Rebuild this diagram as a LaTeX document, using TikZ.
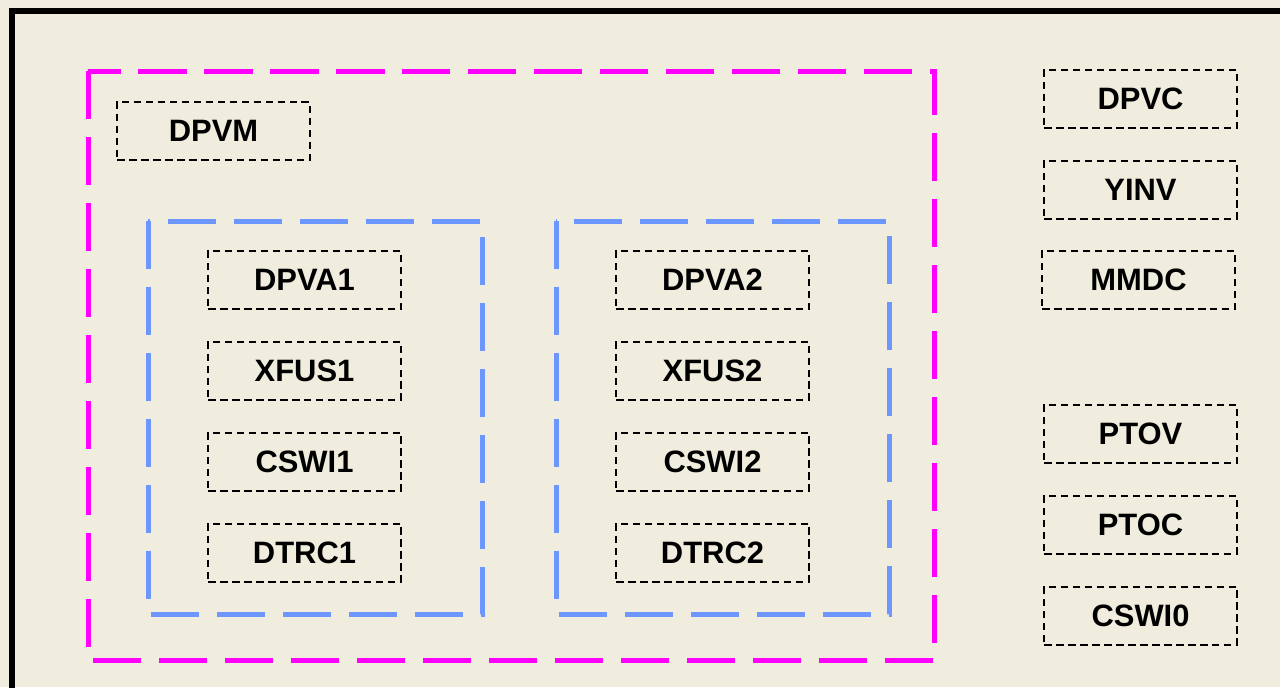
\documentclass[tikz,border=0pt]{standalone}
\usepackage{fontspec}
\setmainfont{Liberation Sans}
\usetikzlibrary{positioning}
\definecolor{pagebeige}{RGB}{240,237,222}
\definecolor{framemagenta}{RGB}{255,0,255}
\definecolor{frameblue}{RGB}{110,150,255}

\tikzset{
  lnode/.style={draw, line width=0.04cm, dash pattern=on 0.15cm off 0.09cm,
    minimum width=3.86cm, minimum height=1.16cm, inner sep=0pt,
    font=\fontsize{17.6}{20}\selectfont\bfseries},
  bigframe/.style={line width=0.1cm, dash pattern=on 0.97cm off 0.35cm}
}

\begin{document}
\begin{tikzpicture}[x=0.02cm, y=-0.02cm, node distance=0.62cm]
    % page
    \useasboundingbox (0,0) rectangle (1280,687);
    \clip (0,0) rectangle (1280,687);
    \fill[pagebeige] (0,0) rectangle (1280,687);
    \draw[line width=0.11cm] (12,11) rectangle (1320,720);

    % containers
    \draw[bigframe, framemagenta] (88,71) rectangle (934,660);
    \draw[bigframe, frameblue] (148,221) rectangle (482,614);
    \draw[bigframe, frameblue] (556,221) rectangle (889,614);

    % logical nodes
    \node[lnode] (dpvm) at (213.5,131) {DPVM};

    \node[lnode] (dpva1) at (304.5,280) {DPVA1};
    \node[lnode, below=of dpva1] (xfus1) {XFUS1};
    \node[lnode, below=of xfus1] (cswi1) {CSWI1};
    \node[lnode, below=of cswi1] (dtrc1) {DTRC1};

    \node[lnode] (dpva2) at (712.5,280) {DPVA2};
    \node[lnode, below=of dpva2] (xfus2) {XFUS2};
    \node[lnode, below=of xfus2] (cswi2) {CSWI2};
    \node[lnode, below=of cswi2] (dtrc2) {DTRC2};

    \node[lnode] (dpvc) at (1140.5,99) {DPVC};
    \node[lnode, below=of dpvc] (yinv) {YINV};
    \node[lnode] (mmdc) at (1138.5,280) {MMDC};

    \node[lnode] (ptov) at (1140.5,434) {PTOV};
    \node[lnode, below=of ptov] (ptoc) {PTOC};
    \node[lnode, below=of ptoc] (cswi0) {CSWI0};
  \end{tikzpicture}
\end{document}
